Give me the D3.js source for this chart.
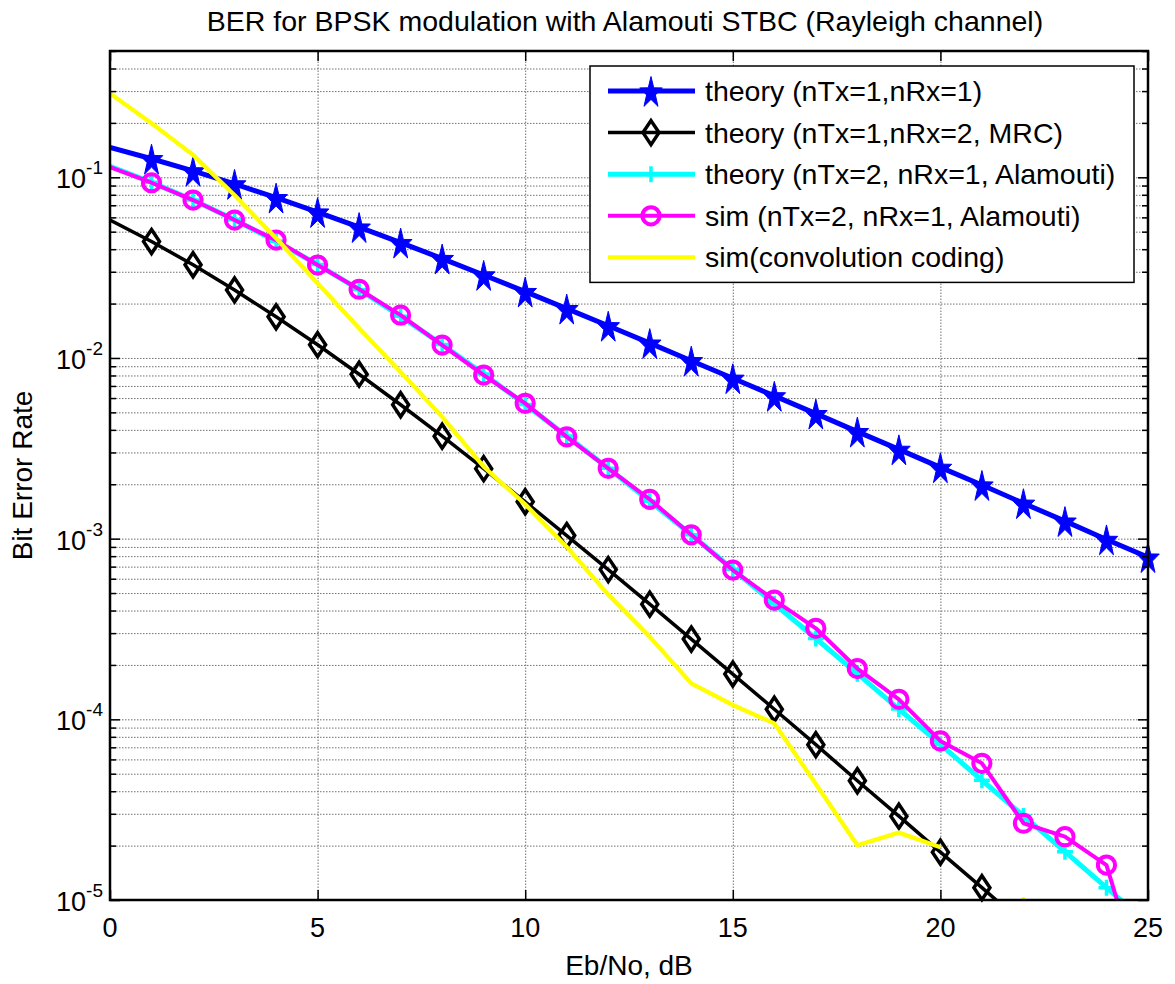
<!DOCTYPE html>
<html>
<head>
<meta charset="utf-8">
<script src="https://cdn.jsdelivr.net/npm/d3@7"></script>
<style>
  html, body { margin: 0; padding: 0; background: #fff; }
  svg { display: block; font-family: "Liberation Sans", Arial, Helvetica, sans-serif; }
</style>
</head>
<body>
<svg id="chart" width="1175" height="984"></svg>
<script>
// Eb/No grid in dB
const ebno = d3.range(0, 26);

// BER curves
const berSiso = [0.1464, 0.1267, 0.1085, 0.0919, 0.0771, 0.0642, 0.0530, 0.0435, 0.0355, 0.0288,
  0.0233, 0.01875, 0.01507, 0.01208, 0.00966, 0.00772, 0.00617, 0.00492, 0.00391, 0.00312,
  0.00248, 0.00198, 0.00157, 0.00125, 0.00099, 0.00079];
const berMrc = [0.0580, 0.0441, 0.0328, 0.0238, 0.0169, 0.01184, 0.00813, 0.00551, 0.00369, 0.00244,
  0.00160, 0.00104, 0.000674, 0.000434, 0.000278, 0.000178, 0.0001137, 7.24e-5, 4.57e-5, 2.91e-5,
  1.84e-5, 1.17e-5, 7.4e-6, 4.7e-6, 3.0e-6, 1.9e-6];
const berAlamoutiTheory = [0.1151, 0.0939, 0.0748, 0.0582, 0.0442, 0.0329, 0.0239, 0.0170, 0.01187, 0.00816,
  0.00553, 0.00370, 0.00245, 0.00161, 0.00105, 0.000677, 0.000436, 0.000280, 0.000179, 0.000114,
  7.26e-5, 4.6e-5, 2.92e-5, 1.85e-5, 1.17e-5, 7.4e-6];
const berAlamoutiSim = [0.114, 0.0933, 0.0748, 0.0580, 0.0449, 0.0327, 0.0240, 0.01726, 0.01178, 0.00804,
  0.00561, 0.00366, 0.00245, 0.00165, 0.00105, 0.00067, 0.000457, 0.000319, 0.000191, 0.000129,
  7.59e-5, 5.71e-5, 2.66e-5, 2.24e-5, 1.56e-5, 2.7e-6];
const berConvSim = [0.291, 0.199, 0.133, 0.0796, 0.046, 0.0259, 0.0146, 0.00836, 0.00472, 0.0025,
  0.00155, 0.0009, 0.00049, 0.000286, 0.000158, 0.00012, 0.000095, 4.39e-5, 2.01e-5, 2.36e-5,
  1.96e-5, null, 1.0e-5, null, null, null];

const seriesNames = [
  "theory (nTx=1,nRx=1)",
  "theory (nTx=1,nRx=2, MRC)",
  "theory (nTx=2, nRx=1, Alamouti)",
  "sim (nTx=2, nRx=1, Alamouti)",
  "sim(convolution coding)"
];
const xTicks = [0, 5, 10, 15, 20, 25];
const yDecades = [1e-5, 1e-4, 1e-3, 1e-2, 1e-1];
const yExponents = [-5, -4, -3, -2, -1];

const chartTitle = "BER for BPSK modulation with Alamouti STBC (Rayleigh channel)";
const xLabel = "Eb/No, dB";
const yLabel = "Bit Error Rate";

// ---- layout ----
const plot = { left: 110, right: 1148, top: 51, bottom: 900 };
const TICK_FONT = 27;
const LABEL_FONT = 28.5;

const svg = d3.select("#chart");
const x = d3.scaleLinear().domain([0, 25]).range([plot.left, plot.right]);
const y = d3.scaleLog().domain([1e-5, 0.5]).range([plot.bottom, plot.top]);

// minor ticks of the log axis (2..9 in each decade, up to 0.5)
const minorTicks = [];
for (let e = -5; e <= -1; e++) {
  for (let m = 2; m <= 9; m++) {
    const v = m * Math.pow(10, e);
    if (v <= 0.5 + 1e-12) minorTicks.push(v);
  }
}
const allYGrid = yDecades.concat(minorTicks);

const defs = svg.append("defs");
defs.append("clipPath").attr("id", "plotClip")
  .append("rect")
  .attr("x", plot.left).attr("y", plot.top)
  .attr("width", plot.right - plot.left).attr("height", plot.bottom - plot.top);

// ---- grid ----
const grid = svg.append("g").attr("class", "grid");
grid.append("g")
  .attr("transform", `translate(${plot.left},0)`)
  .call(d3.axisLeft(y).tickValues(allYGrid).tickSize(-(plot.right - plot.left)).tickFormat(""))
  .call(g => g.select(".domain").remove());
grid.append("g")
  .attr("transform", `translate(0,${plot.bottom})`)
  .call(d3.axisBottom(x).tickValues([5, 10, 15, 20]).tickSize(-(plot.bottom - plot.top)).tickFormat(""))
  .call(g => g.select(".domain").remove());
grid.selectAll("line")
  .attr("stroke", "#707070")
  .attr("stroke-width", 1)
  .attr("stroke-dasharray", "1.5,1.5");

// ---- series ----
const lineGen = d3.line()
  .defined(d => d.v != null && d.v > 0)
  .x(d => x(d.x))
  .y(d => y(d.v));

function pts(arr) { return ebno.map((e, i) => ({ x: e, v: arr[i] })); }

const starPath = (() => {
  const R = 16.5, r = 6.4, sx = 0.72;
  const p = d3.path();
  for (let i = 0; i < 10; i++) {
    const a = -Math.PI / 2 + i * Math.PI / 5;
    const rad = i % 2 === 0 ? R : r;
    const px = Math.cos(a) * rad * sx, py = Math.sin(a) * rad + 2;
    if (i === 0) p.moveTo(px, py); else p.lineTo(px, py);
  }
  p.closePath();
  return p.toString();
})();
const diamondPath = "M0,-12L8,0L0,12L-8,0Z";
const plusPath = "M-8,0L8,0M0,-8L0,8";

const seriesDefs = [
  { data: berSiso, color: "#0000ff", width: 5, marker: "star" },
  { data: berMrc, color: "#000000", width: 3.5, marker: "diamond" },
  { data: berAlamoutiTheory, color: "#00ffff", width: 5, marker: "plus" },
  { data: berAlamoutiSim, color: "#ff00ff", width: 4, marker: "circle" },
  { data: berConvSim, color: "#ffff00", width: 4.3, marker: null }
];

function drawMarker(g, type, color) {
  if (type === "star") {
    g.append("path").attr("d", starPath).attr("fill", color).attr("stroke", color).attr("stroke-width", 1);
  } else if (type === "diamond") {
    g.append("path").attr("d", diamondPath).attr("fill", "none").attr("stroke", color).attr("stroke-width", 3.5);
  } else if (type === "plus") {
    g.append("path").attr("d", plusPath).attr("fill", "none").attr("stroke", color).attr("stroke-width", 3.5);
  } else if (type === "circle") {
    g.append("circle").attr("r", 8.6).attr("fill", "none").attr("stroke", color).attr("stroke-width", 4);
  }
}

const seriesLayer = svg.append("g").attr("class", "series");
seriesDefs.forEach(s => {
  const g = seriesLayer.append("g");
  const data = pts(s.data);
  g.append("path")
    .datum(data)
    .attr("clip-path", "url(#plotClip)")
    .attr("fill", "none")
    .attr("stroke", s.color)
    .attr("stroke-width", s.width)
    .attr("stroke-linejoin", "round")
    .attr("d", lineGen);
  if (s.marker) {
    data.filter(d => d.x >= 1 && d.v != null && d.v >= 1e-5 && d.v <= 0.5).forEach(d => {
      const m = g.append("g").attr("transform", `translate(${x(d.x)},${y(d.v)})`);
      drawMarker(m, s.marker, s.color);
    });
  } else {
    // isolated points of a line-only series show up as a dot
    data.forEach((d, i) => {
      const prev = data[i - 1], next = data[i + 1];
      const isolated = d.v != null && (!prev || prev.v == null) && (!next || next.v == null);
      if (isolated) {
        g.append("circle").attr("cx", x(d.x)).attr("cy", Math.min(y(d.v), plot.bottom - 1))
          .attr("r", 2).attr("fill", s.color);
      }
    });
  }
});

// ---- axes box and ticks (inward, on all sides) ----
const axes = svg.append("g").attr("class", "axes");
function styleTicks(g) {
  g.select(".domain").remove();
  g.selectAll(".tick line").attr("stroke", "#000").attr("stroke-width", 1.5);
}
axes.append("g").attr("transform", `translate(0,${plot.bottom})`)
  .call(d3.axisBottom(x).tickValues(xTicks).tickSize(-10).tickFormat(""))
  .call(styleTicks);
axes.append("g").attr("transform", `translate(0,${plot.top})`)
  .call(d3.axisTop(x).tickValues(xTicks).tickSize(-10).tickFormat(""))
  .call(styleTicks);
axes.append("g").attr("transform", `translate(${plot.left},0)`)
  .call(d3.axisLeft(y).tickValues(yDecades).tickSize(-10).tickFormat(""))
  .call(styleTicks);
axes.append("g").attr("transform", `translate(${plot.right},0)`)
  .call(d3.axisRight(y).tickValues(yDecades).tickSize(-10).tickFormat(""))
  .call(styleTicks);
axes.append("g").attr("transform", `translate(${plot.left},0)`)
  .call(d3.axisLeft(y).tickValues(minorTicks).tickSize(-6).tickFormat(""))
  .call(styleTicks);
axes.append("g").attr("transform", `translate(${plot.right},0)`)
  .call(d3.axisRight(y).tickValues(minorTicks).tickSize(-6).tickFormat(""))
  .call(styleTicks);

axes.append("rect")
  .attr("x", plot.left).attr("y", plot.top)
  .attr("width", plot.right - plot.left).attr("height", plot.bottom - plot.top)
  .attr("fill", "none").attr("stroke", "#000").attr("stroke-width", 2.5);

// x tick labels
axes.append("g").selectAll("text")
  .data(xTicks).join("text")
  .attr("x", d => x(d))
  .attr("y", plot.bottom + 37)
  .attr("text-anchor", "middle")
  .attr("font-size", TICK_FONT)
  .text(d => d);

// y tick labels as 10^k
const yl = axes.append("g").selectAll("text")
  .data(yDecades).join("text")
  .attr("x", plot.left - 7)
  .attr("y", d => y(d) + 11)
  .attr("text-anchor", "end")
  .attr("font-size", TICK_FONT);
yl.append("tspan").text("10");
yl.append("tspan")
  .attr("font-size", 19)
  .attr("dy", -14)
  .text((d, i) => yExponents[i]);

// ---- labels ----
svg.append("text")
  .attr("x", (plot.left + plot.right) / 2 - 4)
  .attr("y", 31)
  .attr("text-anchor", "middle")
  .attr("font-size", LABEL_FONT)
  .text(chartTitle);
svg.append("text")
  .attr("x", (plot.left + plot.right) / 2)
  .attr("y", 975)
  .attr("text-anchor", "middle")
  .attr("font-size", 28)
  .text(xLabel);
svg.append("text")
  .attr("transform", `translate(32,${(plot.top + plot.bottom) / 2}) rotate(-90)`)
  .attr("text-anchor", "middle")
  .attr("font-size", 28)
  .text(yLabel);

// ---- legend ----
const legend = { x: 590, y: 66, w: 544, rowH: 41.6, firstRow: 91 };
const lg = svg.append("g").attr("class", "legend");
lg.append("rect")
  .attr("x", legend.x).attr("y", legend.y)
  .attr("width", legend.w)
  .attr("height", legend.firstRow - legend.y + legend.rowH * (seriesNames.length - 1) + 25)
  .attr("fill", "#fff").attr("stroke", "#000").attr("stroke-width", 1.5);
seriesNames.forEach((name, i) => {
  const s = seriesDefs[i];
  const ry = legend.firstRow + i * legend.rowH;
  lg.append("line")
    .attr("x1", 608).attr("x2", 695).attr("y1", ry).attr("y2", ry)
    .attr("stroke", s.color).attr("stroke-width", s.width);
  if (s.marker) {
    const m = lg.append("g").attr("transform", `translate(651,${ry})`);
    drawMarker(m, s.marker, s.color);
  }
  lg.append("text")
    .attr("x", 705).attr("y", ry + 10)
    .attr("font-size", LABEL_FONT)
    .text(name);
});
</script>
</body>
</html>
